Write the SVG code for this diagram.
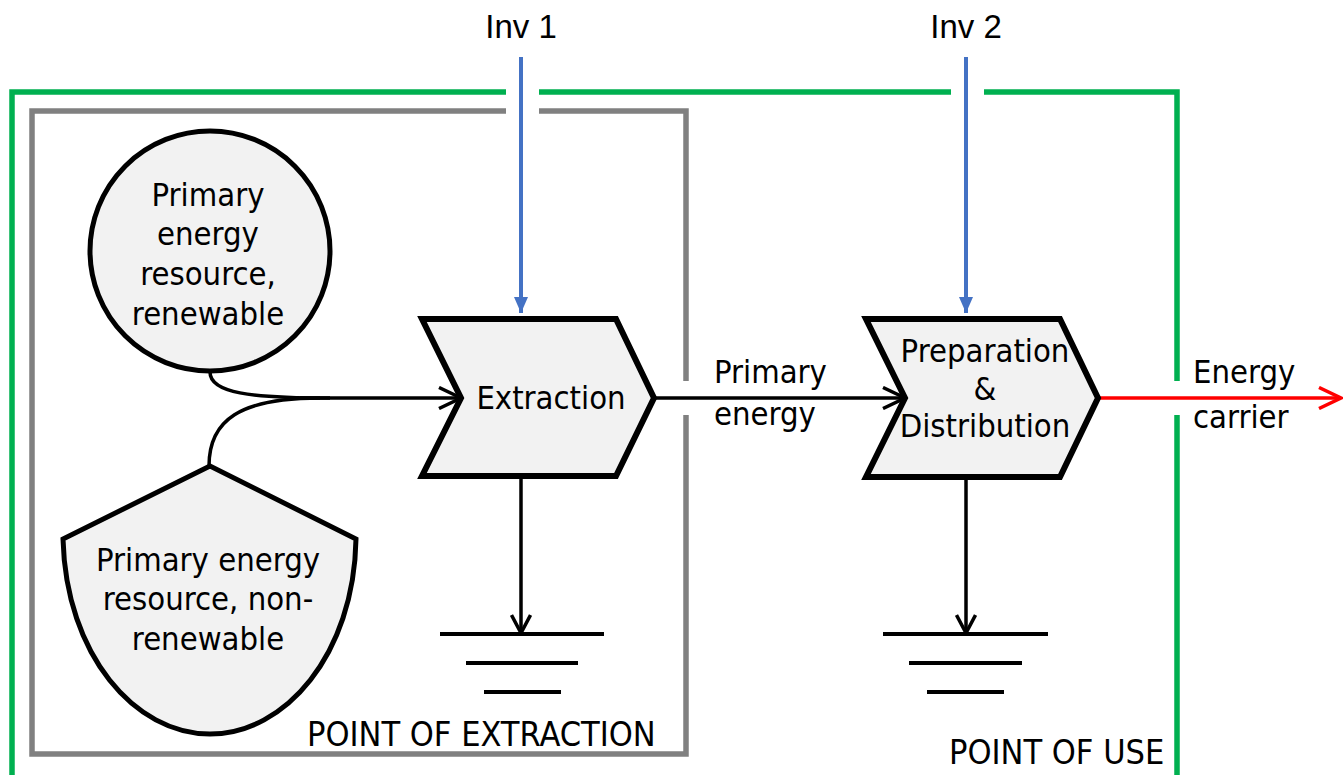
<svg xmlns="http://www.w3.org/2000/svg" width="1344" height="775" viewBox="0 0 1344 775">
<style>
.t{font-family:"DejaVu Sans Condensed","DejaVu Sans",sans-serif;font-stretch:condensed;font-size:32.5px;fill:#000}
.p{font-size:34px}
.inv{font-family:"Liberation Sans",Arial,sans-serif;font-size:33px;fill:#000;text-anchor:middle}
.c{text-anchor:middle}
.node{fill:#F2F2F2;stroke:#000;stroke-linejoin:miter}
.frame{fill:none;stroke-linejoin:miter}
.ln{fill:none;stroke:#000;stroke-width:3.5}
.gnd{stroke:#000;stroke-width:4}
</style>
<defs>
<marker id="open" markerUnits="userSpaceOnUse" viewBox="0 0 26 24" markerWidth="26" markerHeight="24" refX="24" refY="12" orient="auto">
<path d="M2,1.5 L24,12 L2,22.5" fill="none" stroke="#000" stroke-width="3.5"/>
</marker>
<marker id="openS" markerUnits="userSpaceOnUse" viewBox="0 0 22 22" markerWidth="22" markerHeight="22" refX="20" refY="11" orient="auto">
<path d="M2,1.5 L20,11 L2,20.5" fill="none" stroke="#000" stroke-width="3.5"/>
</marker>
<marker id="red" markerUnits="userSpaceOnUse" viewBox="0 0 26 24" markerWidth="26" markerHeight="24" refX="24" refY="12" orient="auto">
<path d="M2,1.5 L24,12 L2,22.5" fill="none" stroke="#FF0000" stroke-width="3.5"/>
</marker>
<marker id="blue" markerUnits="userSpaceOnUse" viewBox="0 0 16 16" markerWidth="16" markerHeight="16" refX="16" refY="8" orient="auto">
<path d="M0,1 L16,8 L0,15 Z" fill="#4472C4"/>
</marker>
</defs>

<g id="frames">
<path class="frame" stroke="#00B050" stroke-width="5.5" d="M506,92 L12,92 L12,780 M539,92 L951,92 M984,92 L1177,92 L1177,381 M1177,415 L1177,780"/>
<path class="frame" stroke="#808080" stroke-width="5.5" d="M506,111 L32,111 L32,754 L686,754 L686,415 M686,381 L686,111 L539,111"/>
<text class="t p" x="307" y="746">POINT OF EXTRACTION</text>
<text class="t p" x="949" y="764">POINT OF USE</text>
</g>

<g id="connectors">
<path class="ln" stroke-width="3" d="M210,372 C210,393 250,398 330,398"/>
<path class="ln" stroke-width="3" d="M209,466 C209,420 240,398 320,398"/>
<path class="ln" d="M300,398 L461,398" marker-end="url(#open)"/>
<path class="ln" d="M655,398 L905,398" marker-end="url(#open)"/>
<path fill="none" stroke="#FF0000" stroke-width="3.5" d="M1100,398 L1341,398" marker-end="url(#red)"/>
<path fill="none" stroke="#4472C4" stroke-width="4" d="M521,57 L521,313" marker-end="url(#blue)"/>
<path fill="none" stroke="#4472C4" stroke-width="4" d="M966,57 L966,313" marker-end="url(#blue)"/>
<path class="ln" d="M521,478 L521,633" marker-end="url(#openS)"/>
<path class="ln" d="M966,480 L966,633" marker-end="url(#openS)"/>
<text class="inv" x="521" y="38">Inv 1</text>
<text class="inv" x="966" y="38">Inv 2</text>
<text class="t" x="714" y="383">Primary</text>
<text class="t" x="714" y="425">energy</text>
<text class="t" x="1193" y="383">Energy</text>
<text class="t" x="1193" y="428">carrier</text>
</g>

<g id="renewable">
<circle class="node" cx="210" cy="251" r="120" stroke-width="5"/>
<text class="t c" x="208" y="206">Primary</text>
<text class="t c" x="208" y="245">energy</text>
<text class="t c" x="208" y="285">resource,</text>
<text class="t c" x="208" y="325">renewable</text>
</g>

<g id="nonrenewable">
<path class="node" stroke-width="5" d="M210,466 L63,539 C66,655 135,734 210,734 C285,734 354,655 356,539 Z"/>
<text class="t c" x="208" y="571">Primary energy</text>
<text class="t c" x="208" y="610">resource, non-</text>
<text class="t c" x="208" y="650">renewable</text>
</g>

<g id="extraction">
<polygon class="node" stroke-width="6" points="422,319 616,319 654,398 616,476 422,476 461,398"/>
<text class="t c" x="551" y="409">Extraction</text>
</g>

<g id="preparation">
<polygon class="node" stroke-width="6" points="866,319 1060,319 1098,398 1060,477 866,477 905,398"/>
<text class="t c" x="985" y="362">Preparation</text>
<text class="t c" x="985" y="400">&amp;</text>
<text class="t c" x="985" y="437">Distribution</text>
</g>

<g id="ground1">
<line class="gnd" x1="440" y1="634" x2="604" y2="634"/>
<line class="gnd" x1="466" y1="663" x2="578" y2="663"/>
<line class="gnd" x1="484" y1="692" x2="561" y2="692"/>
</g>
<g id="ground2">
<line class="gnd" x1="883" y1="634" x2="1048" y2="634"/>
<line class="gnd" x1="909" y1="663" x2="1022" y2="663"/>
<line class="gnd" x1="927" y1="692" x2="1004" y2="692"/>
</g>
</svg>
